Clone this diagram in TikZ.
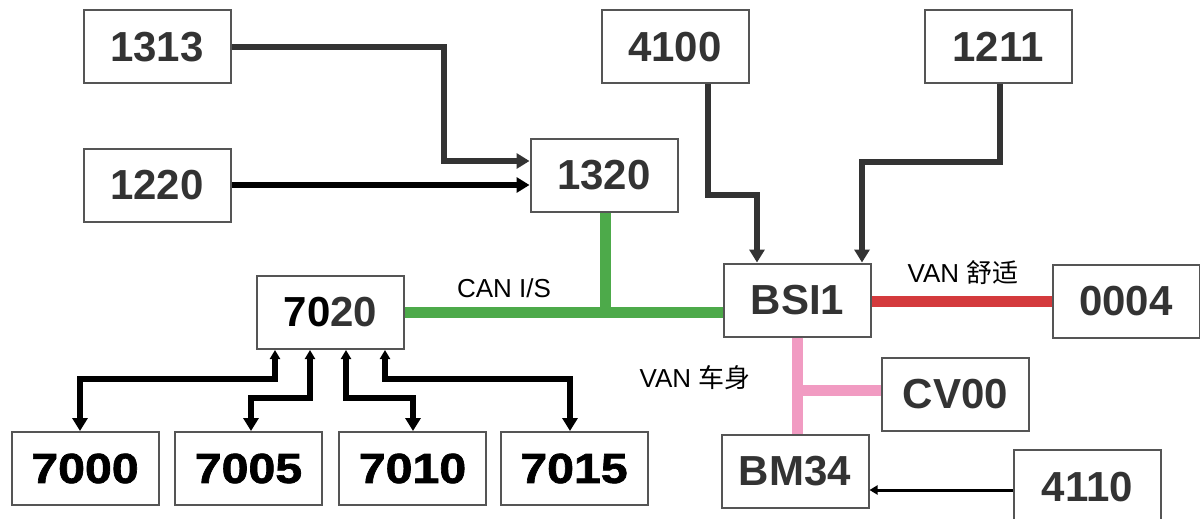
\documentclass[tikz,border=0pt]{standalone}
\usepackage{fontspec}
\setmainfont{Liberation Sans}
\newfontfamily\cjk{Noto Sans CJK SC}
\newfontfamily\heavy{Liberation Sans Bold}[FakeStretch=1.15,FakeBold=1.6]
\usetikzlibrary{arrows.meta}
\definecolor{boxline}{HTML}{555555}
\definecolor{txtgray}{HTML}{333333}
\definecolor{cangreen}{HTML}{4DAA4A}
\definecolor{vanred}{HTML}{D43A3D}
\definecolor{vanpink}{HTML}{F19BC2}
\tikzset{
  ecu/.style={draw=boxline, line width=2pt, fill=white, minimum width=147pt, minimum height=73pt, inner sep=0pt,
    font=\fontsize{42}{48}\selectfont\bfseries, text=txtgray},
  ecuk/.style={ecu, font=\fontsize{42}{48}\selectfont\heavy, text=black},
  sig/.style={draw=txtgray, line width=5.5pt, -{Triangle[width=15pt,length=13pt]}},
  sigk/.style={draw=black, line width=5.5pt, -{Triangle[width=15pt,length=13pt]}},
  bidir/.style={draw=black, line width=5.5pt, {Triangle[width=10pt,length=9pt]}-{Triangle[width=15pt,length=13pt]}},
  thin/.style={draw=black, line width=3pt, -{Triangle[width=9pt,length=8pt]}},
  bus/.style={line width=11pt},
  lbl/.style={font=\fontsize{26}{30}\selectfont, text=black, inner sep=0pt}
}
\begin{document}
\begin{tikzpicture}[x=1pt,y=-1pt]
\useasboundingbox (0,0) rectangle (1200,519);
\fill[white] (0,0) rectangle (1200,519);

\coordinate (g1) at (605,312);
\coordinate (pk) at (797,390);

% nodes
\node[ecu] (n1313) at (157,47) {1313};
\node[ecu] (n1220) at (157,185) {1220};
\node[ecu] (n1320) at (604,175) {1320};
\node[ecu] (n4100) at (675,47) {4100};
\node[ecu] (n1211) at (998,47) {1211};
\node[ecu] (bsi) at (797.5,300) {BSI1};
\node[ecu] (n0004) at (1126,301.5) {0004};
\node[ecu] (n7020) at (330.5,312.5) {{\color{black}70}20};
\node[ecu] (cv00) at (955.5,394.5) {CV00};
\node[ecu] (bm34) at (795,471.5) {BM34};
\node[ecu, minimum height=75pt] (n4110) at (1087.5,487.5) {4110};
\node[ecuk] (n7000) at (85,468.5) {7000};
\node[ecuk] (n7005) at (248.5,468.5) {7005};
\node[ecuk] (n7010) at (412.5,468.5) {7010};
\node[ecuk] (n7015) at (574,468.5) {7015};

% CAN I/S (green)
\draw[bus, cangreen] (n7020.east |- g1) -- (bsi.west |- g1);
\draw[bus, cangreen] (n1320.south -| g1) -- (g1);
% VAN comfort (red)
\draw[bus, vanred] (bsi.east |- 0,301) -- (n0004.west |- 0,301);
% VAN body (pink)
\draw[bus, vanpink] (bsi.south -| pk) -- (bm34.north -| pk);
\draw[bus, vanpink] (pk) -- (cv00.west |- pk);

% labels
\node[lbl] (lcan) at (504,288) {CAN I/S};
\node[lbl] (lcomf) at (963,273) {VAN {\cjk 舒适}};
\node[lbl] (lbody) at (695,378) {VAN {\cjk 车身}};

% inputs to 1320
\coordinate (a1) at (444,47);
\coordinate (a2) at (444,161);
\draw[sig] (n1313.east |- a1) -- (a1) -- (a2) -- (n1320.west |- a2);
\draw[sigk] (n1220.east) -- (n1320.west |- n1220.east);

% inputs to BSI1
\coordinate (b1) at (708,195);
\coordinate (b2) at (757,195);
\draw[sig] (n4100.south -| b1) -- (b1) -- (b2) -- (bsi.north -| b2);
\coordinate (c1) at (1000,162);
\coordinate (c2) at (862,162);
\draw[sig] (n1211.south -| c1) -- (c1) -- (c2) -- (bsi.north -| c2);

% 4110 -> BM34
\draw[thin] (n4110.west |- 0,490) -- (bm34.east |- 0,490);

% 7020 sub-bus
\coordinate (d1) at (275,379);
\coordinate (d1b) at (80,379);
\draw[bidir] (n7020.south -| d1) -- (d1) -- (d1b) -- (n7000.north -| d1b);
\coordinate (d2) at (310,398);
\coordinate (d2b) at (251,398);
\draw[bidir] (n7020.south -| d2) -- (d2) -- (d2b) -- (n7005.north -| d2b);
\coordinate (d3) at (346,398);
\coordinate (d3b) at (413,398);
\draw[bidir] (n7020.south -| d3) -- (d3) -- (d3b) -- (n7010.north -| d3b);
\coordinate (d4) at (385,379);
\coordinate (d4b) at (570,379);
\draw[bidir] (n7020.south -| d4) -- (d4) -- (d4b) -- (n7015.north -| d4b);
\end{tikzpicture}
\end{document}
